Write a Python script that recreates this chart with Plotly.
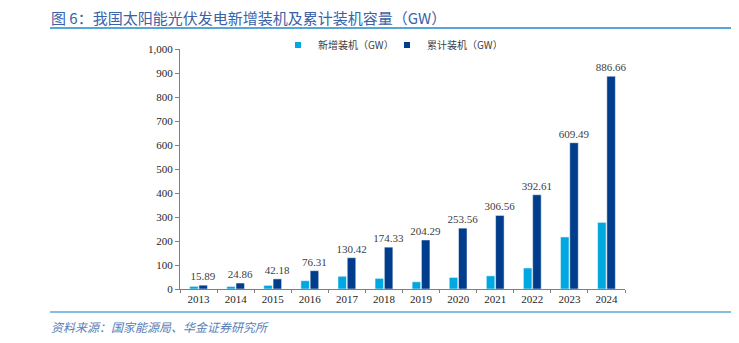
import plotly.graph_objects as go

# Installed solar PV capacity in China (GW)
years = ["2013", "2014", "2015", "2016", "2017", "2018",
         "2019", "2020", "2021", "2022", "2023", "2024"]
new_capacity = [10.95, 10.60, 15.13, 34.54, 53.06, 44.26,
                30.11, 48.20, 54.88, 87.41, 216.88, 277.57]
cumulative_capacity = [15.89, 24.86, 42.18, 76.31, 130.42, 174.33,
                       204.29, 253.56, 306.56, 392.61, 609.49, 886.66]
series_names = ["新增装机（GW）", "累计装机（GW）"]

LIGHT = "#00A8E1"
DARK = "#003D8C"
SERIF = "Liberation Serif, Noto Sans CJK SC, serif"
CJK = "Noto Sans CJK SC, sans-serif"

# plot area in pixels
L, R, T, B = 180, 625, 49, 289
W, H = 739, 343
pw, ph = R - L, B - T


def px(x):
    return (x - L) / pw


def py(y):
    return (B - y) / ph


fig = go.Figure()
fig.add_trace(go.Bar(
    x=years, y=new_capacity, name=series_names[0], showlegend=False,
    marker=dict(color=LIGHT, line=dict(color="white", width=0.5)),
))
fig.add_trace(go.Bar(
    x=years, y=cumulative_capacity, name=series_names[1], showlegend=False,
    marker=dict(color=DARK, line=dict(color="white", width=0.5)),
    text=[f"{v:.2f}" for v in cumulative_capacity],
    textposition="outside", cliponaxis=False, constraintext="none",
    textfont=dict(family=SERIF, size=11, color="#404040"),
))
# small square keys for the legend
for name, color in zip(series_names, [LIGHT, DARK]):
    fig.add_trace(go.Scatter(
        x=[None], y=[None], mode="markers", name=name,
        marker=dict(symbol="square", size=6, color=color),
    ))

fig.update_layout(
    width=W, height=H,
    margin=dict(l=L, r=W - R, t=T, b=H - B),
    paper_bgcolor="white", plot_bgcolor="white",
    barmode="group", bargap=0.5, bargroupgap=0.08,
    showlegend=True,
    legend=dict(
        orientation="h", x=px(278), y=py(45), xanchor="left", yanchor="middle",
        font=dict(family=CJK, size=10, color="#404040"),
        itemwidth=30, bgcolor="rgba(0,0,0,0)", tracegroupgap=0,
        entrywidth=64,
    ),
    xaxis=dict(
        type="category", showgrid=False, showline=True,
        linecolor="#7F7F7F", linewidth=1,
        ticks="outside", tickson="boundaries", ticklen=3, tickcolor="#7F7F7F",
        tickfont=dict(family=SERIF, size=11, color="#262626"),
    ),
    yaxis=dict(
        range=[0, 1000], dtick=100, tickformat=",",
        showgrid=False, showline=True, zeroline=False,
        linecolor="#7F7F7F", linewidth=1,
        ticks="outside", ticklen=4, tickcolor="#7F7F7F",
        tickfont=dict(family=SERIF, size=11, color="#262626"),
    ),
    shapes=[
        dict(type="line", xref="paper", yref="paper",
             x0=px(50), x1=px(731), y0=py(28), y1=py(28),
             line=dict(color="#1E88CC", width=1.5)),
        dict(type="line", xref="paper", yref="paper",
             x0=px(50), x1=px(731), y0=py(312), y1=py(312),
             line=dict(color="#5AA8D8", width=1.5)),
    ],
    annotations=[
        dict(text="图 6：我国太阳能光伏发电新增装机及累计装机容量（GW）",
             xref="paper", yref="paper", x=px(49), y=py(17),
             xanchor="left", yanchor="middle", showarrow=False,
             font=dict(family=CJK, size=15, color="#3A62A8")),
        dict(text="<i>资料来源：国家能源局、华金证券研究所</i>",
             xref="paper", yref="paper", x=px(49), y=py(326),
             xanchor="left", yanchor="middle", showarrow=False,
             font=dict(family=CJK, size=12, color="#5B7DB5")),
    ],
)

fig.write_html("out.html")
